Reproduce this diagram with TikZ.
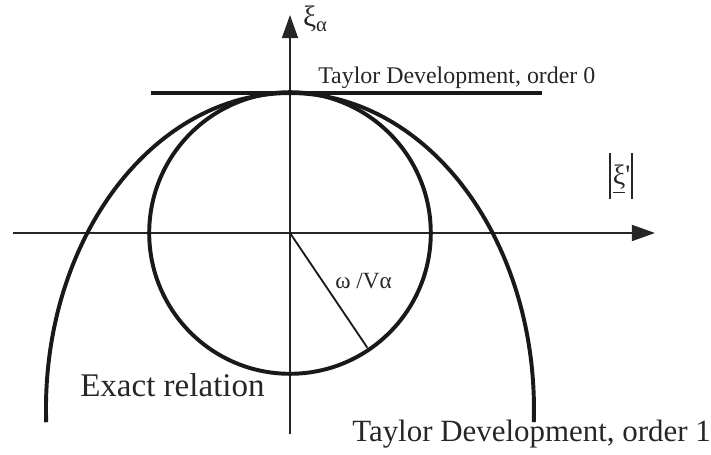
\documentclass[tikz,border=0pt]{standalone}
\usepackage{fontspec}
\setmainfont{Liberation Serif}
\usetikzlibrary{arrows.meta}
\tikzset{
  axisline/.style={line width=1.4pt, draw=black!85, -{Triangle[length=0.58cm, width=0.4cm]}},
  thickcurve/.style={line width=2.8pt, draw=black!90},
  rline/.style={line width=1.3pt, draw=black!90},
  lbl/.style={inner sep=0pt, anchor=base west, text=black!85},
}
\newcommand{\absbar}{\rule[-0.5em]{0.07em}{1.62em}}

\begin{document}
\begin{tikzpicture}
  \useasboundingbox (-7.25,-5.55) rectangle (10.525,5.825);
  % axes
  \coordinate (O) at (0,0);
  \coordinate (xa) at (-6.925,0);
  \coordinate (xb) at (9.125,0);
  \coordinate (ya) at (0,-5.025);
  \coordinate (yb) at (0,5.45);
  \draw[axisline] (xa) -- (xb);
  \draw[axisline] (ya) -- (yb);
  % exact relation, circle and its radius
  \draw[thickcurve] (O) circle[radius=3.52];
  \coordinate (R) at (-56:3.46);
  \draw[rline] (O) -- (R);
  % Taylor order 0, tangent line
  \coordinate (t0a) at (-3.475,3.5);
  \coordinate (t0b) at (6.3,3.5);
  \draw[thickcurve] (t0a) -- (t0b);
  % Taylor order 1, elliptic arc
  \coordinate (t1a) at (-6.095,-4.731);
  \draw[thickcurve] (t1a) arc[start angle=182.4, end angle=-2.4,
    x radius=6.1, y radius=7.9];
  % labels
  \node[lbl, font=\fontsize{21}{24}\selectfont] (ylab) at (0.32,5.15)
    {ξ\textsubscript{α}};
  \node[lbl, font=\fontsize{20}{24}\selectfont, anchor=center] (xlab)
    at (8.275,1.42)
    {\absbar\hspace{0.08em}\underline{ξ}\textquotesingle\hspace{0.04em}\absbar};
  \node[lbl, font=\fontsize{17}{20}\selectfont] (lab0) at (0.7,3.74)
    {Taylor Development, order 0};
  \node[lbl, font=\fontsize{22}{26}\selectfont] (lab1) at (1.55,-5.225)
    {Taylor Development, order 1};
  \node[lbl, font=\fontsize{23.5}{27}\selectfont] (labx) at (-5.25,-4.1)
    {Exact relation};
  \node[lbl, font=\fontsize{16.5}{19}\selectfont] (labr) at (1.125,-1.38)
    {ω /Vα};
\end{tikzpicture}
\end{document}
